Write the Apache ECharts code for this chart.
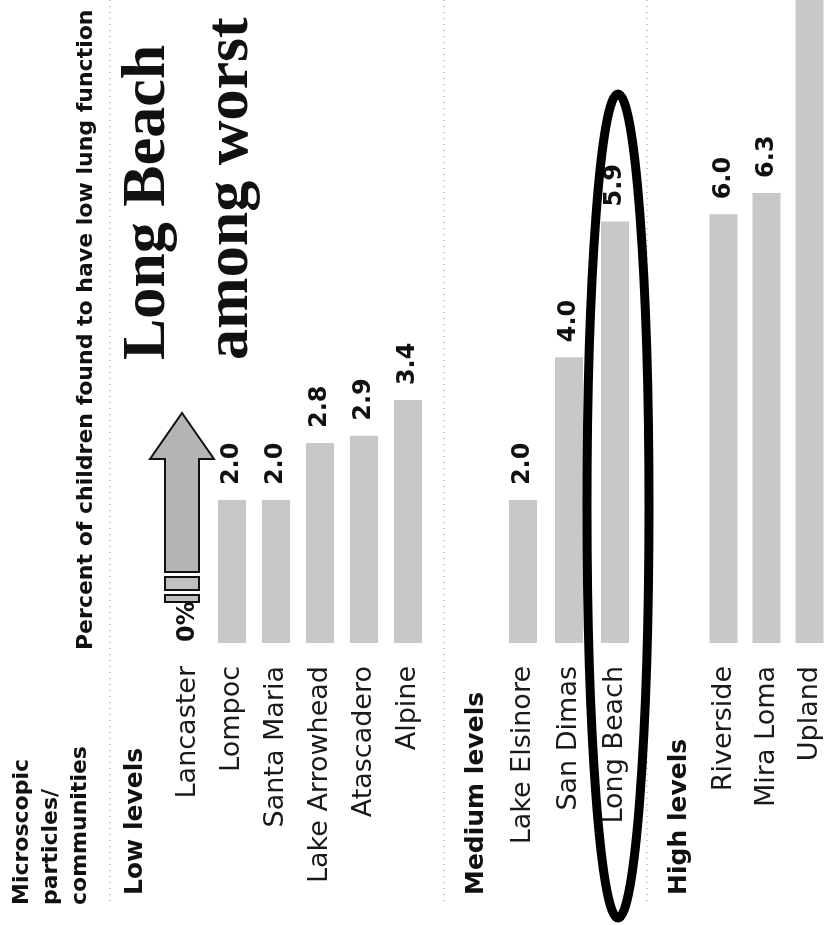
<!DOCTYPE html>
<html>
<head>
<meta charset="utf-8">
<script src="https://cdn.jsdelivr.net/npm/echarts@6/dist/echarts.min.js"></script>
<style>
  html, body { margin: 0; padding: 0; background: #fff; }
  #main { width: 831px; height: 925px; }
</style>
</head>
<body>
<div id="main"></div>
<script>
// communities grouped by level of microscopic particles
var lowCities = ['Lancaster', 'Lompoc', 'Santa Maria', 'Lake Arrowhead', 'Atascadero', 'Alpine'];
var lowValues = [0, 2.0, 2.0, 2.8, 2.9, 3.4];
var mediumCities = ['Lake Elsinore', 'San Dimas', 'Long Beach'];
var mediumValues = [2.0, 4.0, 5.9];
var highCities = ['Riverside', 'Mira Loma', 'Upland'];
var highValues = [6.0, 6.3, 9.0];   // Upland runs off the top of the page
var groupNames = ['Low levels', 'Medium levels', 'High levels'];

var myChart = echarts.init(document.getElementById('main'));

var sans = 'DejaVu Sans';
var barColor = '#c8c8c8';

function toItems(values) {
    var items = [];
    for (var i = 0; i < values.length; i++) {
        var item = { value: values[i] };
        if (values[i] === 0) {
            item.label = { distance: 1 };
        }
        if (values[i] >= 9) {
            item.label = { show: false };
        }
        items.push(item);
    }
    return items;
}

function xAxisFor(idx, cats) {
    return {
        type: 'category',
        gridIndex: idx,
        data: cats,
        axisLine: { show: false },
        axisTick: { show: false },
        axisLabel: {
            rotate: 90,
            margin: 23,
            fontFamily: sans,
            fontSize: 27,
            color: '#1a1a1a'
        }
    };
}

function yAxisFor(idx) {
    return {
        type: 'value',
        gridIndex: idx,
        min: 0,
        max: 9,
        show: false,
        splitLine: { show: false }
    };
}

function barSeries(idx, values) {
    return {
        type: 'bar',
        xAxisIndex: idx,
        yAxisIndex: idx,
        barWidth: 28,
        data: toItems(values),
        itemStyle: { color: barColor },
        label: {
            show: true,
            position: 'top',
            rotate: 90,
            align: 'left',
            verticalAlign: 'middle',
            distance: 15,
            fontFamily: sans,
            fontWeight: 'bold',
            fontSize: 24,
            color: '#111',
            formatter: function (p) {
                return p.value === 0 ? '0%' : p.value.toFixed(1);
            }
        }
    };
}

var option = {
    backgroundColor: '#fff',
    animation: false,
    grid: [
        { left: 166, right: 401, top: 0, bottom: 282 },
        { left: 500, right: 193, top: 0, bottom: 282 },
        { left: 702, right: -4, top: 0, bottom: 282 }
    ],
    xAxis: [xAxisFor(0, lowCities), xAxisFor(1, mediumCities), xAxisFor(2, highCities)],
    yAxis: [yAxisFor(0), yAxisFor(1), yAxisFor(2)],
    series: [barSeries(0, lowValues), barSeries(1, mediumValues), barSeries(2, highValues)]
};
myChart.setOption(option);

// 旋转的文字（从下往上读）
function upText(x, y, text, font) {
    return {
        type: 'text',
        x: x,
        y: y,
        rotation: Math.PI / 2,
        z: 20,
        style: {
            text: text,
            font: font,
            fill: '#111',
            align: 'left',
            verticalAlign: 'middle',
            textAlign: 'left',
            textVerticalAlign: 'middle'
        }
    };
}

function dotLine(x) {
    return {
        type: 'line',
        z: 1,
        shape: { x1: x, y1: 0, x2: x, y2: 905 },
        style: { stroke: '#888', lineWidth: 1, lineDash: [1, 5] }
    };
}

var headFont = 'bold 22px "DejaVu Sans"';
var groupFont = 'bold 25px "DejaVu Sans"';
var titleFont = 'bold 62px "Liberation Serif"';

// arrow over Lancaster, ellipse round Long Beach
var lanX = myChart.convertToPixel({ xAxisIndex: 0 }, 'Lancaster') - 6;
var lbX = myChart.convertToPixel({ xAxisIndex: 1 }, 'Long Beach') + 3;

var graphics = [
    dotLine(110), dotLine(444), dotLine(647),
    upText(22, 905, 'Microscopic', headFont),
    upText(51, 905, 'particles/', headFont),
    upText(80, 905, 'communities', headFont),
    upText(86, 650, 'Percent of children found to have low lung function', headFont),
    upText(135, 895, groupNames[0], groupFont),
    upText(476, 895, groupNames[1], groupFont),
    upText(679, 895, groupNames[2], groupFont),
    upText(148, 360, 'Long Beach', titleFont),
    upText(231, 360, 'among worst', titleFont),
    {
        type: 'polygon',
        z: 15,
        shape: {
            points: [
                [lanX, 413], [lanX + 32, 459], [lanX + 17, 459], [lanX + 17, 572],
                [lanX - 17, 572], [lanX - 17, 459], [lanX - 32, 459]
            ]
        },
        style: { fill: '#b4b4b4', stroke: '#111', lineWidth: 2 }
    },
    {
        type: 'rect', z: 15,
        shape: { x: lanX - 17, y: 577, width: 34, height: 13 },
        style: { fill: '#c0c0c0', stroke: '#111', lineWidth: 2 }
    },
    {
        type: 'rect', z: 15,
        shape: { x: lanX - 17, y: 595, width: 34, height: 7 },
        style: { fill: '#c0c0c0', stroke: '#111', lineWidth: 2 }
    },
    {
        type: 'ellipse',
        z: 30,
        shape: { cx: lbX, cy: 506, rx: 31, ry: 412 },
        style: { fill: 'none', stroke: '#000', lineWidth: 9 }
    }
];

myChart.setOption({ graphic: graphics });
</script>
</body>
</html>
